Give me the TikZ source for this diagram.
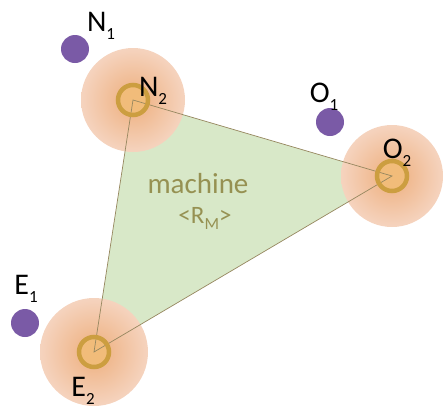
\documentclass[tikz,border=0pt]{standalone}
\usepackage{fontspec}
\setmainfont{Carlito}
\definecolor{dotpurple}{RGB}{122,90,166}
\definecolor{trifill}{RGB}{216,232,200}
\definecolor{triedge}{RGB}{150,135,95}
\definecolor{ringcol}{RGB}{204,158,64}
\definecolor{ringfill}{RGB}{242,190,115}
\definecolor{olivetext}{RGB}{150,145,82}
\definecolor{glowA}{RGB}{240,186,145}
\definecolor{glowB}{RGB}{245,210,188}
\definecolor{glowC}{RGB}{248,226,214}
\definecolor{glowD}{RGB}{249,235,228}
\definecolor{glowE}{RGB}{236,230,228}
\pgfdeclareradialshading{glowshade}{\pgfpoint{0bp}{0bp}}{color(0bp)=(glowA); color(8bp)=(glowA); color(24bp)=(glowB); color(38bp)=(glowC); color(46bp)=(glowD); color(48.5bp)=(glowE); color(50bp)=(white)}
\newcommand{\mylbl}[2]{#1\raisebox{-8pt}{\fontsize{17}{17}\selectfont #2}}
\tikzset{
  glow/.style={circle, shading=glowshade, minimum size=#1, inner sep=0pt},
  ringfillst/.style={circle, fill=ringfill, fill opacity=0.75, minimum size=30pt, inner sep=0pt},
  ringst/.style={circle, draw=ringcol, line width=4.5pt, minimum size=30pt, inner sep=0pt},
  dotst/.style={circle, fill=dotpurple, minimum size=28pt, inner sep=0pt},
  lblst/.style={inner sep=0pt, font=\fontsize{30}{30}\selectfont, text=black},
  edgest/.style={draw=triedge, line width=0.7pt},
}
\begin{document}
\begin{tikzpicture}[x=1pt,y=-1pt]
\useasboundingbox (0,0) rectangle (445,408);
\coordinate (n2) at (133,100);
\coordinate (o2) at (392,176);
\coordinate (e2) at (94,352);
% triangle fill
\fill[trifill] (n2) -- (o2) -- (e2) -- cycle;
% glows
\node[glow=104pt] (n2glow) at (n2) {};
\node[glow=102pt] (o2glow) at (o2) {};
\node[glow=108pt] (e2glow) at (e2) {};
% ring fills
\node[ringfillst] (n2rf) at (n2) {};
\node[ringfillst] (o2rf) at (o2) {};
\node[ringfillst] (e2rf) at (e2) {};
% triangle edges
\draw[edgest] (n2) -- (o2) -- (e2) -- cycle;
% rings
\node[ringst] (n2ring) at (n2) {};
\node[ringst] (o2ring) at (o2) {};
\node[ringst] (e2ring) at (e2) {};
% dots
\node[dotst] (n1dot) at (75,49) {};
\node[dotst] (o1dot) at (330,122) {};
\node[dotst] (e1dot) at (25,323) {};
% labels
\node[lblst] (n1lbl) at (101,26) {\mylbl{N}{1}};
\node[lblst] (n2lbl) at (153,91) {\mylbl{N}{2}};
\node[lblst] (o1lbl) at (324,97) {\mylbl{O}{1}};
\node[lblst] (o2lbl) at (397,153) {\mylbl{O}{2}};
\node[lblst] (e1lbl) at (26,289) {\mylbl{E}{1}};
\node[lblst] (e2lbl) at (83,391) {\mylbl{E}{2}};
% machine text
\node[inner sep=0pt, text=olivetext, font=\fontsize{29}{29}\selectfont] (mach) at (198,184) {machine};
\node[inner sep=0pt, text=olivetext, font=\fontsize{25}{25}\selectfont] (rm) at (205,218) {<R\raisebox{-6pt}{\fontsize{17}{17}\selectfont M}>};
\end{tikzpicture}
\end{document}
